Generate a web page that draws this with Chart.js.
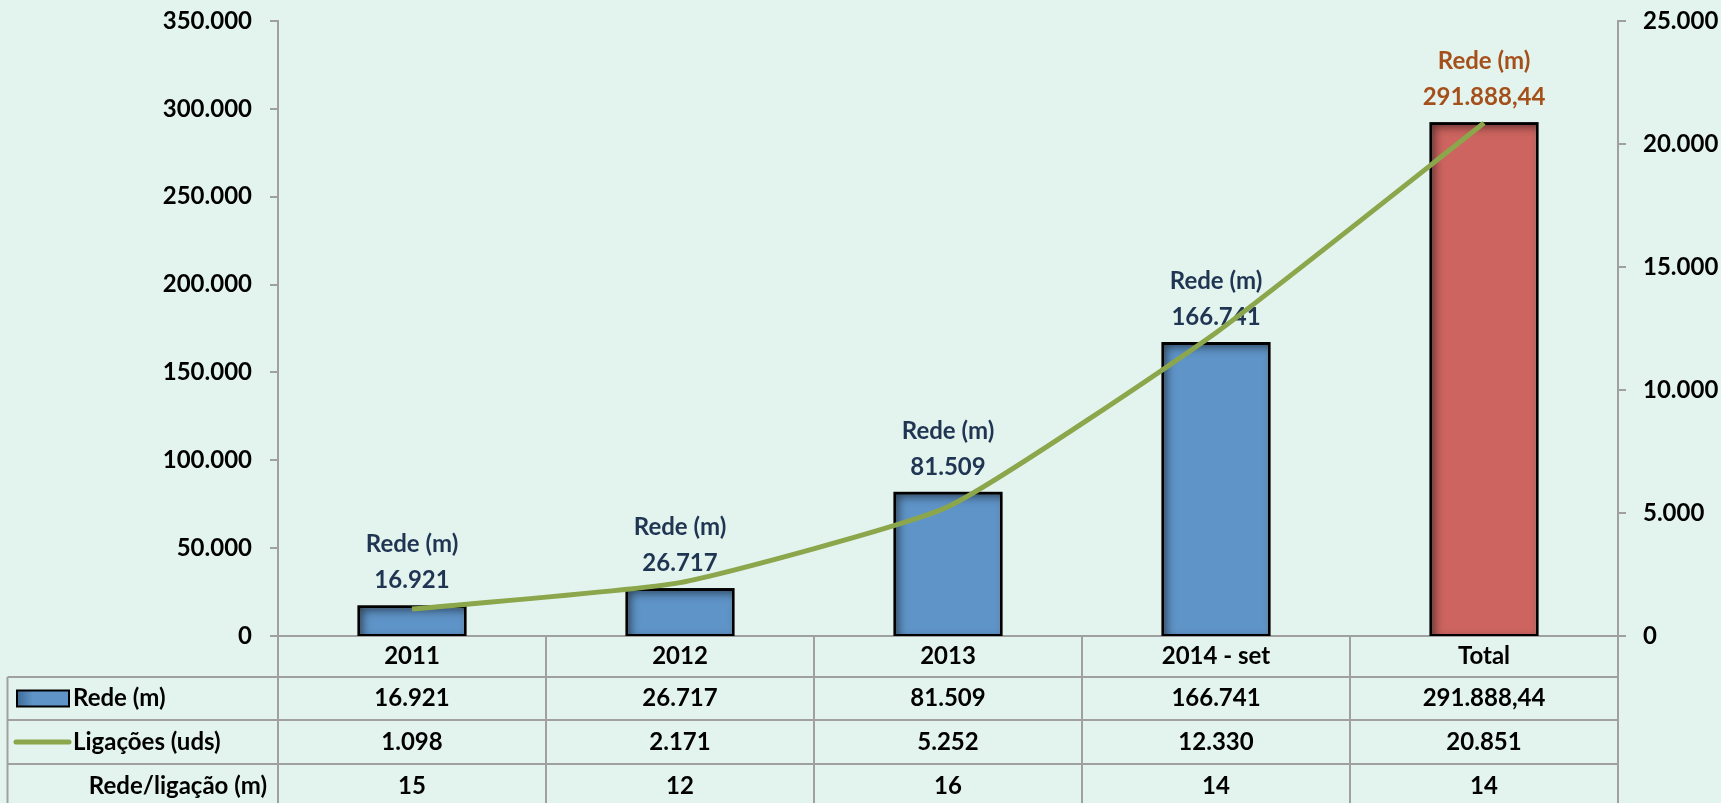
<!DOCTYPE html>
<html>
<head>
<meta charset="utf-8">
<script src="https://cdn.jsdelivr.net/npm/chart.js@4/dist/chart.umd.min.js"></script>
<style>
  body { margin: 0; background: #e3f4ee; }
  #wrap { width: 1721px; height: 803px; position: relative; }
</style>
</head>
<body>
<div id="wrap"><canvas id="chart"></canvas></div>
<script>
// dados do gráfico
const categorias = ['2011', '2012', '2013', '2014 - set', 'Total'];
const rede = [16921, 26717, 81509, 166741, 291888.44];
const ligacoes = [1098, 2171, 5252, 12330, 20851];
const redePorLigacao = [15, 12, 16, 14, 14];
const ticksRede = [0, 50000, 100000, 150000, 200000, 250000, 300000, 350000];
const ticksLigacoes = [0, 5000, 10000, 15000, 20000, 25000];

const FONTE = 'Lato, "Open Sans", sans-serif';
const TAM = 24;
const CINZA = '#a0a0a0';
const AZUL = '#5f94c8';
const VERMELHO = '#cd645f';
const VERDE = '#8ba64b';

// formato pt: 291.888,44
function fmt(v) {
    const s = (v % 1 ? v.toFixed(2) : v.toFixed(0)).split('.');
    return s[0].replace(/\B(?=(\d{3})+(?!\d))/g, '.') + (s[1] ? ',' + s[1] : '');
}

// rótulos acima das barras
const rotulos = {
    id: 'rotulos',
    beforeDatasetsDraw(chart) {
        const ctx = chart.ctx;
        const meta = chart.getDatasetMeta(0);
        ctx.save();
        ctx.font = 'bold ' + TAM + 'px ' + FONTE;
        ctx.textAlign = 'center';
        ctx.textBaseline = 'middle';
        meta.data.forEach((bar, i) => {
            ctx.fillStyle = i === rede.length - 1 ? '#a5501a' : '#1f3552';
            ctx.fillText('Rede (m)', bar.x, bar.y - 62);
            ctx.fillText(fmt(rede[i]), bar.x, bar.y - 26);
        });
        ctx.restore();
    }
};

// sombra interna das barras (como no Excel)
const sombra = {
    id: 'sombra',
    afterDatasetDraw(chart, args) {
        if (args.index !== 0) return;
        const ctx = chart.ctx;
        args.meta.data.forEach(bar => {
            const l = bar.x - bar.width / 2, t = bar.y, w = bar.width, h = bar.base - bar.y;
            ctx.save();
            ctx.beginPath();
            ctx.rect(l, t, w, h);
            ctx.clip();
            ctx.beginPath();
            ctx.rect(l - 40, t - 40, w + 80, h + 80);
            ctx.rect(l, t, w, h);
            ctx.shadowColor = 'rgba(0,0,0,0.55)';
            ctx.shadowBlur = 10;
            ctx.shadowOffsetX = 4;
            ctx.shadowOffsetY = 4;
            ctx.fillStyle = '#000';
            ctx.fill('evenodd');
            ctx.restore();
            ctx.save();
            ctx.strokeStyle = '#000';
            ctx.lineWidth = 2;
            ctx.strokeRect(l, t, w, h);
            ctx.restore();
        });
    }
};

// tabela de dados embaixo do gráfico
const tabela = {
    id: 'tabela',
    afterDraw(chart) {
        const ctx = chart.ctx;
        const x = chart.scales.x;
        const a = chart.chartArea;
        const linhas = [a.bottom + 41, a.bottom + 84, a.bottom + 128];
        ctx.save();
        ctx.strokeStyle = CINZA;
        ctx.lineWidth = 2;
        ctx.beginPath();
        linhas.forEach(y => { ctx.moveTo(7.5, y); ctx.lineTo(a.right, y); });
        ctx.moveTo(7.5, linhas[0]); ctx.lineTo(7.5, chart.height);
        ctx.stroke();

        ctx.font = 'bold ' + TAM + 'px ' + FONTE;
        ctx.fillStyle = '#000';
        ctx.textBaseline = 'middle';
        ctx.textAlign = 'center';
        const yCab = (a.bottom + linhas[0]) / 2;
        const y1 = (linhas[0] + linhas[1]) / 2;
        const y2 = (linhas[1] + linhas[2]) / 2;
        const y3 = linhas[2] + 22;
        categorias.forEach((c, i) => {
            const px = x.getPixelForValue(i);
            ctx.fillText(c, px, yCab);
            ctx.fillText(fmt(rede[i]), px, y1);
            ctx.fillText(fmt(ligacoes[i]), px, y2);
            ctx.fillText(fmt(redePorLigacao[i]), px, y3);
        });

        // legenda nas linhas
        ctx.textAlign = 'left';
        ctx.fillText('Rede (m)', 73, y1);
        ctx.fillText('Ligações (uds)', 73, y2);
        ctx.textAlign = 'right';
        ctx.fillText('Rede/ligação (m)', 267, y3);

        const g = ctx.createLinearGradient(17, 0, 69, 0);
        g.addColorStop(0, '#3f6a96');
        g.addColorStop(0.3, AZUL);
        g.addColorStop(1, AZUL);
        ctx.fillStyle = g;
        ctx.strokeStyle = '#000';
        ctx.lineWidth = 2;
        ctx.fillRect(17, y1 - 8, 52, 16);
        ctx.strokeRect(17, y1 - 8, 52, 16);

        ctx.strokeStyle = VERDE;
        ctx.lineWidth = 5;
        ctx.lineCap = 'round';
        ctx.beginPath();
        ctx.moveTo(16, y2); ctx.lineTo(69, y2);
        ctx.stroke();
        ctx.restore();
    }
};

const fonteTicks = { family: FONTE, size: TAM, weight: 'bold' };

new Chart(document.getElementById('chart'), {
    data: {
        labels: categorias,
        datasets: [{
            type: 'bar',
            label: 'Rede (m)',
            data: rede,
            yAxisID: 'y',
            backgroundColor: rede.map((v, i) => i === rede.length - 1 ? VERMELHO : AZUL),
            borderColor: '#000',
            borderWidth: 2,
            barPercentage: 0.4,
            categoryPercentage: 1,
            order: 1
        }, {
            type: 'line',
            label: 'Ligações (uds)',
            data: ligacoes,
            yAxisID: 'y1',
            borderColor: VERDE,
            borderWidth: 5,
            pointRadius: 0,
            tension: 0.15,
            order: 0
        }]
    },
    options: {
        responsive: true,
        maintainAspectRatio: false,
        animation: false,
        layout: { padding: { top: 21, left: 0, right: 0, bottom: 0 } },
        plugins: { legend: { display: false }, tooltip: { enabled: false } },
        scales: {
            x: {
                offset: true,
                afterFit(s) { s.height = 167; s.paddingLeft = 0; s.paddingRight = 0; },
                ticks: { display: false },
                border: { display: true, color: CINZA, width: 2 },
                grid: { offset: true, drawOnChartArea: false, drawTicks: true, tickLength: 167, color: CINZA, lineWidth: 2 }
            },
            y: {
                position: 'left',
                min: 0,
                max: ticksRede[ticksRede.length - 1],
                afterFit(s) { s.width = 278; s.paddingTop = 0; s.paddingBottom = 0; },
                afterBuildTicks(s) { s.ticks = ticksRede.map(v => ({ value: v })); },
                ticks: { padding: 18, color: '#000', font: fonteTicks, callback: v => fmt(v) },
                border: { display: true, color: CINZA, width: 2 },
                grid: { drawOnChartArea: false, drawTicks: true, tickLength: 8, color: CINZA, lineWidth: 2 }
            },
            y1: {
                position: 'right',
                min: 0,
                max: ticksLigacoes[ticksLigacoes.length - 1],
                afterFit(s) { s.width = 103; s.paddingTop = 0; s.paddingBottom = 0; },
                afterBuildTicks(s) { s.ticks = ticksLigacoes.map(v => ({ value: v })); },
                ticks: { padding: 17, color: '#000', font: fonteTicks, callback: v => fmt(v) },
                border: { display: true, color: CINZA, width: 2 },
                grid: { drawOnChartArea: false, drawTicks: true, tickLength: 8, color: CINZA, lineWidth: 2 }
            }
        }
    },
    plugins: [rotulos, sombra, tabela]
});
</script>
</body>
</html>
